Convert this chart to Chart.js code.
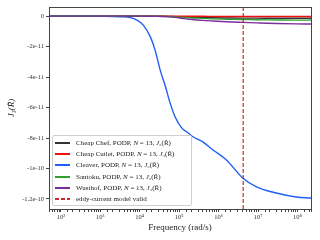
<!DOCTYPE html>
<html>
<head>
<meta charset="utf-8">
<script src="https://cdn.jsdelivr.net/npm/chart.js@4"></script>
<style>
  html, body { margin: 0; padding: 0; background: #fff; }
  #wrap { position: relative; width: 320px; height: 240px; }
  #legend {
    position: absolute; left: 52px; top: 135px; width: 140px; height: 71px;
    box-sizing: border-box; border: 1px solid #d0d0d0; border-radius: 2px;
    background: rgba(255,255,255,0.85);
    font-family: "Liberation Serif", serif; font-size: 7px; color: #222;
    padding: 1.5px 0 0 2px;
  }
  .row { height: 11.2px; display: flex; align-items: center; white-space: nowrap; }
  .sw { display: inline-block; width: 15px; height: 2px; margin-right: 6px; flex: none; }
</style>
</head>
<body>
<div id="wrap">
  <canvas id="c" width="320" height="240"></canvas>
  <div id="legend"></div>
</div>
<script>
const freq = [50, 100, 1e3, 3.2e3, 5.8e3, 8.5e3, 1.23e4, 1.86e4, 2.45e4, 3.3e4, 4.5e4, 5.9e4,
  7.9e4, 1.17e5, 1.7e5, 2.09e5, 3.98e5, 7.24e5, 1.58e6, 4.07e6, 9.1e6, 2.9e7, 9.3e7, 2.2e8];

// J3 values, in units of 1e-11
const cheapChef = [0, 0, 0, 0, 0, 0, 0, 0, 0, 0, -0.01, -0.02,
  -0.03, -0.05, -0.07, -0.08, -0.1, -0.11, -0.12, -0.13, -0.13, -0.14, -0.14, -0.14];
const cheapCutlet = [0, 0, 0, 0, 0, 0, 0, 0, 0, 0, 0, 0,
  0, -0.01, -0.01, -0.01, -0.01, -0.02, -0.02, -0.02, -0.02, -0.02, -0.02, -0.02];
const cleaver = [0, 0, -0.01, -0.04, -0.1, -0.26, -0.59, -1.36, -2.23, -3.54, -4.64, -5.71,
  -6.62, -7.35, -7.67, -7.87, -8.25, -8.79, -9.44, -10.62, -11.2, -11.61, -11.87, -11.94];
const santoku = [0, 0, 0, 0, 0, 0, 0, 0, 0, -0.01, -0.02, -0.03,
  -0.05, -0.08, -0.11, -0.12, -0.15, -0.18, -0.2, -0.22, -0.24, -0.25, -0.26, -0.26];
const wusthof = [0, 0, 0, 0, 0, 0, 0, -0.01, -0.01, -0.02, -0.03, -0.05,
  -0.08, -0.14, -0.2, -0.22, -0.28, -0.32, -0.37, -0.41, -0.44, -0.48, -0.51, -0.52];

const eddyFreq = [4.2e6];

const names = ['Cheap Chef', 'Cheap Cutlet', 'Cleaver', 'Santoku', 'Wusthof'];
const colors = ['#333333', '#ee1111', '#1f5ff5', '#2fa02f', '#7a2e9e'];
const series = [cheapChef, cheapCutlet, cleaver, santoku, wusthof];

const xLimits = [50, 2.2e8];
const yLimits = [-1.266e-10, 6e-12];
const xTickValues = [1e2, 1e3, 1e4, 1e5, 1e6, 1e7, 1e8];
const xTickLabels = ['10²', '10³', '10⁴', '10⁵', '10⁶', '10⁷', '10⁸'];
const yTickValues = [0, -2e-11, -4e-11, -6e-11, -8e-11, -1e-10, -1.2e-10];
const yTickLabels = ['0', '-2e-11', '-4e-11', '-6e-11', '-8e-11', '-1e-10', '-1.2e-10'];

const serif = '"Liberation Serif", serif';

const datasets = series.map((vals, i) => ({
  label: names[i] + ', PODP, <i>N</i> = 13, <i>J</i>₃(R̃)',
  data: freq.map((f, k) => ({ x: f, y: vals[k] * 1e-11 })),
  borderColor: colors[i],
  borderWidth: 1.4,
  pointRadius: 0,
  showLine: true,
  cubicInterpolationMode: 'monotone',
  order: 10 - i
}));

datasets.push({
  label: 'eddy-current model valid',
  data: [{ x: eddyFreq[0], y: yLimits[1] }, { x: eddyFreq[0], y: yLimits[0] }],
  borderColor: 'rgba(200,20,20,0.9)',
  borderDash: [4, 2],
  borderWidth: 1.2,
  pointRadius: 0,
  showLine: true,
  order: 0
});

// frame round the plot area
const framePlugin = {
  id: 'frame',
  afterDatasetsDraw(chart) {
    const { ctx, chartArea: a } = chart;
    ctx.save();
    ctx.strokeStyle = '#444';
    ctx.lineWidth = 1;
    ctx.strokeRect(a.left + 0.5, a.top + 0.5, a.right - a.left, a.bottom - a.top);
    ctx.restore();
  }
};

const chart = new Chart(document.getElementById('c'), {
  type: 'scatter',
  data: { datasets },
  options: {
    responsive: false,
    animation: false,
    devicePixelRatio: 1,
    layout: { padding: { left: 0, top: 7, right: 9, bottom: 0 } },
    plugins: { legend: { display: false }, tooltip: { enabled: false } },
    scales: {
      x: {
        type: 'logarithmic',
        min: xLimits[0],
        max: xLimits[1],
        afterFit: s => { s.height = 31; },
        border: { display: false },
        grid: { drawOnChartArea: false, tickLength: 3, color: '#444' },
        ticks: {
          autoSkip: false, maxRotation: 0, padding: 1,
          font: { family: serif, size: 6.5 }, color: '#333',
          callback: v => {
            const i = xTickValues.findIndex(t => Math.abs(t - v) < t * 1e-6);
            return i >= 0 ? xTickLabels[i] : '';
          }
        },
        title: {
          display: true, text: 'Frequency (rad/s)', color: '#222',
          font: { family: serif, size: 9 }, padding: { top: 6.5, bottom: 6.5 }
        }
      },
      y: {
        min: yLimits[0],
        max: yLimits[1],
        afterFit: s => { s.width = 49; },
        afterBuildTicks: s => { s.ticks = yTickValues.map(value => ({ value })); },
        border: { display: false },
        grid: { drawOnChartArea: false, tickLength: 3, color: '#444' },
        ticks: {
          padding: 2,
          font: { family: serif, size: 6.5 }, color: '#333',
          callback: v => {
            const i = yTickValues.findIndex(t => Math.abs(t - v) < 1e-13);
            return i >= 0 ? yTickLabels[i] : '';
          }
        },
        title: {
          display: true, text: 'J₃(R̃)', color: '#222',
          font: { family: serif, size: 9, style: 'italic' }, padding: { top: 6.5, bottom: 6.5 }
        }
      }
    }
  },
  plugins: [framePlugin]
});

// legend inside the plot, lower left
const legend = document.getElementById('legend');
chart.data.datasets.forEach(ds => {
  const row = document.createElement('div');
  row.className = 'row';
  const bg = ds.borderDash
    ? `repeating-linear-gradient(90deg, ${ds.borderColor} 0 4px, transparent 4px 6px)`
    : ds.borderColor;
  row.innerHTML = `<span class="sw" style="background:${bg}"></span><span>${ds.label}</span>`;
  legend.appendChild(row);
});
</script>
</body>
</html>
